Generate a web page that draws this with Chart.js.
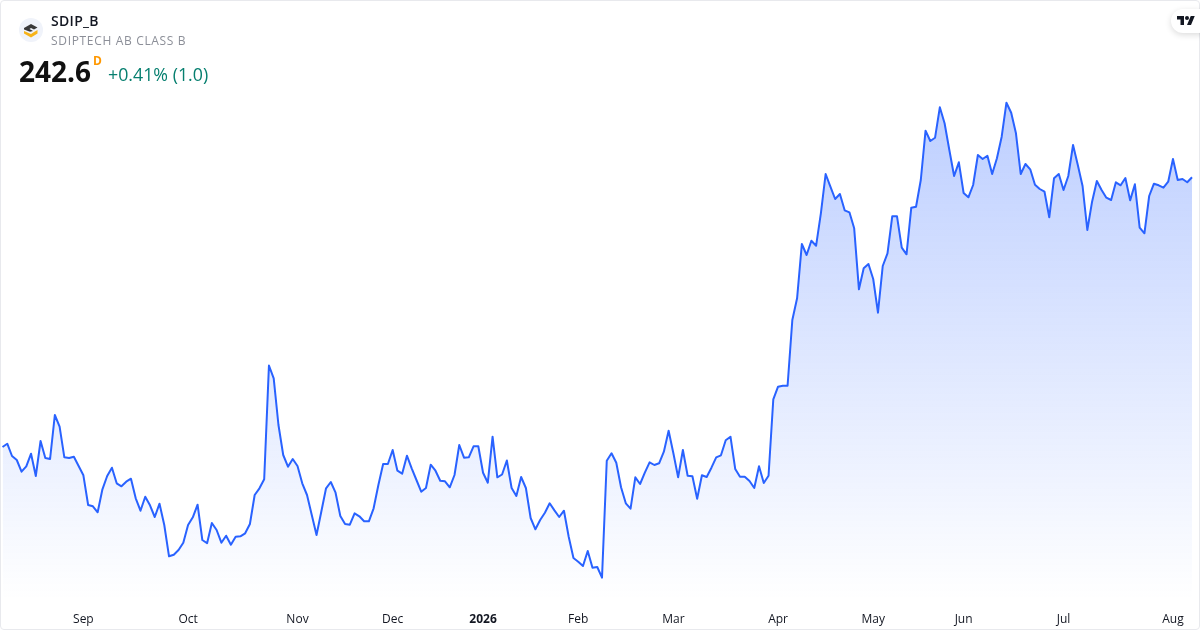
<!DOCTYPE html>
<html>
<head>
<meta charset="utf-8">
<script src="https://cdn.jsdelivr.net/npm/chart.js@4"></script>
<style>
  html, body { margin: 0; padding: 0; background: #fff; }
  body { width: 1200px; height: 630px; overflow: hidden; position: relative; font-family: "Open Sans", sans-serif; }
  #chart { position: absolute; left: 0; top: 0; }
  #frame { position: absolute; left: 0; top: 0; width: 1198px; height: 628px; border: 1px solid #e8e9ed; border-radius: 4px; pointer-events: none; }
  .txt { position: absolute; white-space: nowrap; }
  #symbol { left: 51px; top: 12px; font-size: 14px; line-height: 18px; font-weight: 600; letter-spacing: 0.3px; color: #131722; }
  #name { left: 51px; top: 32px; font-size: 12px; line-height: 17px; letter-spacing: 0.67px; color: #8c8f98; }
  #price { left: 19px; top: 53px; font-size: 28px; line-height: 36px; font-weight: 700; color: #111; }
  #interval { left: 93px; top: 54px; font-size: 12px; line-height: 14px; font-weight: 700; color: #ff9800; }
  #change { left: 108px; top: 62px; font-size: 17.8px; line-height: 24px; color: #067f6f; }
  #logo { position: absolute; left: 19px; top: 18px; }
  #tvbadge { position: absolute; left: 1171px; top: 9px; width: 40px; height: 24px; border-radius: 12px; background: #fff; box-shadow: 0 2px 6px rgba(0,0,0,0.14); }
  #tvlogo { position: absolute; left: 1177px; top: 14px; }
</style>
</head>
<body>
<canvas id="chart" width="1200" height="630"></canvas>
<div id="frame"></div>
<svg id="logo" width="24" height="24" viewBox="0 0 24 24">
  <circle cx="12" cy="12" r="12" fill="#f0f3fa"/>
  <path d="M5 10 L12 6 L18.5 9.5 L15 11.5 L12 10 L10.5 11 L14 13 L11 13.8 L5 11.5 Z" fill="#3a3a3a"/>
  <path d="M5 13 L12 16 L15 14 L18.5 12 V15.5 L12 19.5 L5 15.5 Z" fill="#f7b318"/>
</svg>
<div class="txt" id="symbol">SDIP_B</div>
<div class="txt" id="name">SDIPTECH AB CLASS B</div>
<div class="txt" id="price">242.6</div>
<div class="txt" id="interval">D</div>
<div class="txt" id="change">+0.41% (1.0)</div>
<div id="tvbadge"></div>
<svg id="tvlogo" width="18" height="14" viewBox="0 0 36 28">
  <path d="M14 22H7V11H0V4h14v18zM28 22h-8l7.5-18h8L28 22z" fill="#131722"/>
  <circle cx="20" cy="8" r="4" fill="#131722"/>
</svg>
<script>
// daily close
const closes = [
  188.66, 189.32, 186.86, 186.06, 183.72, 184.80, 187.32, 182.86, 189.86, 186.46,
  186.26, 195.06, 192.72, 186.60, 186.46, 186.72, 184.86, 183.00, 177.06, 176.80,
  175.60, 180.20, 182.86, 184.52, 181.40, 180.80, 181.72, 182.32, 178.40, 175.92,
  178.72, 177.00, 174.66, 177.32, 173.06, 166.80, 167.12, 168.06, 169.52, 173.06,
  174.60, 177.12, 170.06, 169.40, 173.46, 172.06, 169.52, 170.92, 169.12, 170.72,
  170.80, 171.40, 173.26, 179.06, 180.40, 182.20, 204.96, 202.40, 193.06, 187.06,
  184.72, 186.26, 184.86, 181.40, 179.06, 175.06, 171.06, 175.72, 180.40, 181.66,
  179.52, 174.86, 173.26, 173.12, 175.40, 174.80, 173.80, 173.80, 176.40, 181.06,
  185.26, 185.26, 188.06, 183.92, 183.32, 186.92, 184.40, 182.06, 179.72, 180.46,
  185.12, 183.92, 181.92, 181.80, 180.60, 183.06, 189.06, 186.52, 186.60, 188.80,
  188.80, 183.52, 181.52, 190.72, 182.60, 183.16, 185.96, 180.46, 178.86, 182.66,
  180.46, 174.46, 172.20, 174.06, 175.52, 177.40, 175.98, 174.66, 175.92, 170.72,
  166.46, 165.72, 164.86, 167.86, 164.52, 164.66, 162.52, 185.92, 187.40, 185.52,
  180.60, 177.40, 176.32, 182.60, 181.26, 183.52, 185.60, 185.06, 185.40, 187.72,
  191.92, 187.40, 182.60, 188.06, 182.92, 182.80, 178.32, 183.00, 182.66, 184.52,
  186.60, 187.00, 190.00, 190.72, 184.26, 182.72, 182.72, 181.86, 180.46, 184.80,
  181.46, 182.92, 198.20, 200.72, 200.92, 200.92, 214.06, 218.40, 229.26, 227.06,
  229.92, 228.92, 235.40, 243.26, 240.72, 238.26, 239.26, 236.00, 235.60, 232.40,
  220.20, 224.40, 225.26, 222.26, 215.52, 224.86, 227.40, 234.80, 234.80, 228.52,
  227.20, 236.52, 236.72, 242.06, 251.92, 249.86, 250.52, 256.60, 253.40, 248.06,
  242.86, 245.60, 239.46, 238.60, 241.06, 247.06, 246.26, 246.92, 243.26, 246.40,
  250.72, 257.52, 255.52, 251.40, 243.26, 245.26, 244.20, 241.12, 240.26, 239.72,
  234.60, 242.40, 243.26, 240.06, 242.86, 249.06, 245.06, 240.86, 232.06, 237.72,
  241.86, 240.06, 238.52, 238.06, 241.60, 241.00, 242.46, 237.99, 241.20, 232.52,
  231.40, 238.86, 241.32, 241.00, 240.52, 241.72, 246.26, 242.06, 242.26, 241.60,
  242.60
];
const tickIndex = [17, 39, 62, 82, 101, 121, 141, 163, 183, 202, 223, 246];
const tickLabels = ["Sep", "Oct", "Nov", "Dec", "2026", "Feb", "Mar", "Apr", "May", "Jun", "Jul", "Aug"];
const sessions = closes.map((c, i) => i);

const ctx = document.getElementById("chart").getContext("2d");

function areaFill(context) {
  const area = context.chart.chartArea;
  if (!area) return "rgba(41, 98, 255, 0.1)";
  const g = context.chart.ctx.createLinearGradient(0, 100, 0, area.bottom);
  g.addColorStop(0, "rgba(41, 98, 255, 0.31)");
  g.addColorStop(1, "rgba(41, 98, 255, 0)");
  return g;
}

new Chart(ctx, {
  type: "line",
  data: {
    labels: sessions,
    datasets: [
      {
        data: closes,
        borderColor: "#2962ff",
        borderWidth: 2,
        borderJoinStyle: "round",
        backgroundColor: areaFill,
        fill: "start",
        tension: 0,
        pointRadius: 0,
      },
    ],
  },
  options: {
    responsive: false,
    animation: false,
    layout: { padding: { left: 2.5, right: 8, top: 10, bottom: 0 } },
    plugins: { legend: { display: false }, tooltip: { enabled: false } },
    scales: {
      x: {
        offset: false,
        grid: { display: false },
        border: { display: false },
        afterFit(scale) {
          scale.height = 30;
        },
        ticks: {
          autoSkip: false,
          maxRotation: 0,
          padding: 4,
          color: "#131722",
          font: (c) => ({
            family: '"Open Sans", sans-serif',
            size: 12,
            weight: c.tick && c.tick.label === "2026" ? "bold" : "normal",
          }),
          callback(value, index) {
            const at = tickIndex.indexOf(index);
            return at >= 0 ? tickLabels[at] : null;
          },
        },
      },
      y: {
        display: false,
        min: 158.06,
        max: 276.06,
      },
    },
  },
});
</script>
</body>
</html>
